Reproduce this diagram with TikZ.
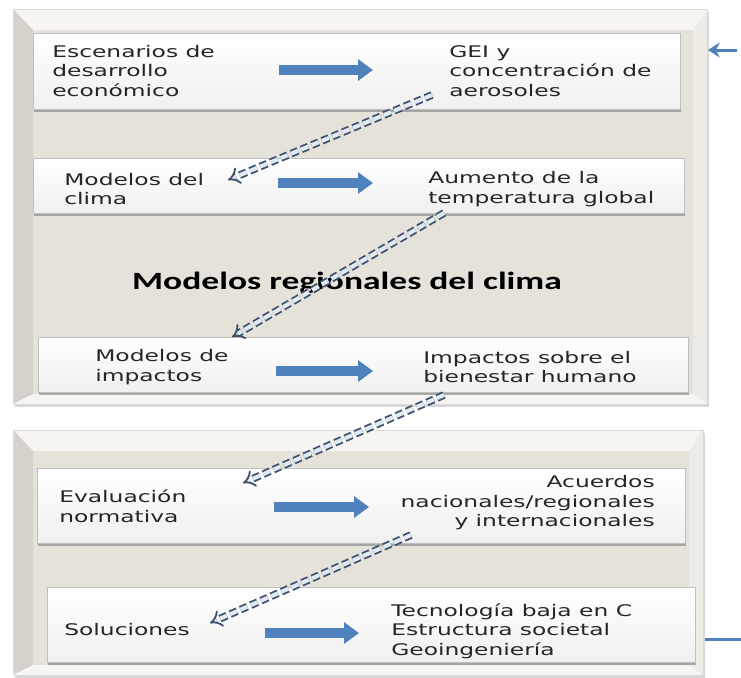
\documentclass[tikz,border=0pt]{standalone}
\usepackage{fontspec}
\setmainfont{DejaVu Sans}[FakeStretch=1.46]
\newfontfamily\titulo{Carlito}[FakeStretch=1.43]
\usepackage{tikz}
\usetikzlibrary{arrows.meta,positioning,shadows}
\usepackage{xcolor}

\definecolor{panel}{RGB}{229,226,218}
\definecolor{biselsup}{RGB}{246,245,242}
\definecolor{biselizq}{RGB}{212,210,203}
\definecolor{biselder}{RGB}{237,235,230}
\definecolor{azul}{RGB}{79,129,189}
\definecolor{azulosc}{RGB}{62,82,110}
\definecolor{azulclaro}{RGB}{226,234,244}

\tikzset{
    caja/.style={top color=white, bottom color=black!6, draw=black!25, line width=0.5pt,
        drop shadow={shadow xshift=0.8pt, shadow yshift=-1.6pt, fill=black!45, opacity=.7}},
    texto/.style={font=\fontsize{9.6}{11.7}\selectfont, text=black!85, align=left, inner sep=0pt},
    flecha/.style={azul, line width=6pt, -{Triangle[length=9pt, width=12.5pt]}},
    enlace/.style={draw=azulosc, line width=1.1pt, dash pattern=on 4.5pt off 2.2pt,
        double=azulclaro, double distance=2.4pt, -{Implies[scale=1.1]}}
}

\begin{document}
\begin{tikzpicture}[x=0.6pt, y=-0.6pt]
    \useasboundingbox (0,0) rectangle (741,677);

    % Paneles con bisel
    \foreach \xa/\ya/\xb/\yb in {13/9/707/404, 13/430/703/675} {
        \fill[panel, drop shadow={shadow xshift=1pt, shadow yshift=-1.5pt, fill=black!30}]
            (\xa,\ya) rectangle (\xb,\yb);
        \fill[biselsup] (\xa,\ya) -- (\xb,\ya) -- (\xb-14,\ya+21) -- (\xa+20,\ya+21) -- cycle;
        \fill[biselizq] (\xa,\ya) -- (\xa+20,\ya+21) -- (\xa+20,\yb-10) -- (\xa,\yb) -- cycle;
        \fill[biselder] (\xb,\ya) -- (\xb,\yb) -- (\xb-14,\yb-10) -- (\xb-14,\ya+21) -- cycle;
        \fill[biselsup] (\xa,\yb) -- (\xa+20,\yb-10) -- (\xb-14,\yb-10) -- (\xb,\yb) -- cycle;
        \draw[black!15, line width=0.4pt] (\xa,\ya) rectangle (\xb,\yb);
    }

    % Cajas
    \draw[caja] (33,33) rectangle (680,109);
    \draw[caja] (33,158) rectangle (684,213);
    \draw[caja] (38,337) rectangle (688,392);
    \draw[caja] (37,468) rectangle (685,543);
    \draw[caja] (47,587) rectangle (695,662);

    % Textos
    \node[texto, anchor=west] (esc) at (52,71) {Escenarios de\\desarrollo\\económico};
    \node[texto, anchor=west] (gei) at (449,71) {GEI y\\concentración de\\aerosoles};
    \node[texto, anchor=west] (mod) at (64,189) {Modelos del\\clima};
    \node[texto, anchor=west] (temp) at (428,189) {Aumento de la\\temperatura global};
    \node[font=\titulo\bfseries\fontsize{14.9}{16}\selectfont, inner sep=0pt] (reg) at (347,283)
        {Modelos regionales del clima};
    \node[texto, anchor=west] (imp) at (95,367) {Modelos de\\impactos};
    \node[texto, anchor=west] (bien) at (423,367) {Impactos sobre el\\bienestar humano};
    \node[texto, anchor=west] (eval) at (59,506) {Evaluación\\normativa};
    \node[texto, anchor=east, align=right] (acu) at (655,503)
        {Acuerdos\\nacionales/regionales\\y internacionales};
    \node[texto, anchor=west] (sol) at (64,630) {Soluciones};
    \node[texto, anchor=west] (tec) at (391,631)
        {Tecnología baja en C\\Estructura societal\\Geoingeniería};

    % Flechas gruesas
    \foreach \n/\xa/\xb/\y in {1/279/373/70, 2/278/373/183, 3/276/373/371, 4/274/369/507, 5/265/359/633} {
        \coordinate (fi\n) at (\xa,\y);
        \coordinate (ff\n) at (\xb,\y);
        \draw[flecha] (fi\n) -- (ff\n);
    }

    % Enlaces punteados
    \foreach \n/\xa/\ya/\xb/\yb in {1/432/95/228/180, 2/444/213/232/337, 3/444/395/243/483, 4/411/535/210/623} {
        \coordinate (ei\n) at (\xa,\ya);
        \coordinate (ef\n) at (\xb,\yb);
        \draw[enlace] (ei\n) -- (ef\n);
    }

    % Entrada y salida
    \coordinate (ent1) at (737,50);
    \coordinate (ent2) at (708,50);
    \draw[azul, line width=1.8pt, -{Stealth[length=7pt, width=9pt]}] (ent1) -- (ent2);
    \coordinate (sal1) at (705,639);
    \coordinate (sal2) at (741,639);
    \draw[azul, line width=1.8pt] (sal1) -- (sal2);
\end{tikzpicture}
\end{document}
